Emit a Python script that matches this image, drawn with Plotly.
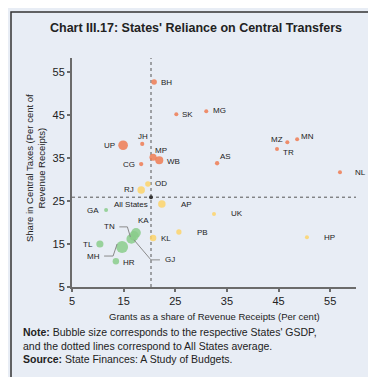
import plotly.graph_objects as go

# ---------------- data ----------------
states = ["BH", "SK", "MG", "MZ", "MN", "TR", "AS", "NL", "MP", "WB",
          "JH", "UP", "CG", "OD", "RJ", "AP", "UK", "PB", "KL", "HP",
          "GA", "TL", "MH", "HR", "TN", "KA", "GJ"]
grants = [20.9, 25.2, 31.0, 46.7, 48.6, 44.7, 33.1, 56.9, 20.7, 21.9,
          18.6, 14.9, 18.4, 19.7, 18.4, 22.4, 32.5, 25.7, 20.7, 50.5,
          11.6, 10.4, 14.7, 13.5, 16.5, 17.4, 17.0]
tax_share = [52.7, 45.2, 45.9, 38.7, 39.4, 37.1, 33.8, 31.7, 35.2, 34.5,
             38.3, 38.0, 33.6, 29.0, 27.6, 24.3, 22.0, 17.8, 16.4, 16.6,
             22.9, 15.0, 14.3, 11.0, 16.2, 17.6, 16.9]
gsdp = [6.7, 0.4, 0.4, 0.3, 0.4, 0.7, 4.0, 0.35, 11.0, 14.0,
        3.8, 20.0, 4.0, 6.5, 12.0, 12.0, 2.7, 6.0, 9.0, 1.9,
        0.9, 11.0, 31.0, 8.8, 21.0, 20.0, 20.0]
group = ["high"] * 13 + ["mid"] * 7 + ["low"] * 7
all_states = (20.3, 25.9)

x_ticks = [5, 15, 25, 35, 45, 55]
y_ticks = [5, 15, 25, 35, 45, 55]
x_range = [5, 60]
y_range = [5, 58.3]

# ---------------- style ----------------
BG = "#e8edf5"
FONT = "Liberation Sans, Arial, sans-serif"
colors = {"high": "#ef7b52", "mid": "#fdd36a", "low": "#89cc8b"}
W, H = 376, 377
ML, MR, MT, MB = 64, 28, 50, 98
PW, PH = W - ML - MR, H - MT - MB

# label placement: (xanchor, dx px, dy px up)
label_pos = {
    "BH": ("left", 5, 0), "SK": ("left", 4, 0), "MG": ("left", 5, 1),
    "MZ": ("right", -2, 3), "MN": ("left", 2, 3), "TR": ("left", 4, -3),
    "AS": ("left", 1, 7), "NL": ("left", 13, 0), "MP": ("left", 0, 7),
    "WB": ("left", 6, -1), "JH": ("center", 1, 7), "UP": ("right", -6, 0),
    "CG": ("right", -4, 0), "OD": ("left", 5, 0), "RJ": ("right", -5, 0),
    "AP": ("left", 17, 0), "UK": ("left", 15, 0), "PB": ("left", 16, 0),
    "KL": ("left", 6, 0), "HP": ("left", 15, 0), "GA": ("right", -5, 0),
    "TL": ("right", -5, 0), "HR": ("left", 5, -1), "KA": ("center", 7, 12),
}
# leader lines: points in px offsets from the bubble (dx right, dy up), label at end
leaders = {
    "TN": ([(-1, 2), (-4, 12), (-12, 12)], "right"),
    "MH": ([(-5, 3), (-9, -9), (-18, -9)], "right"),
    "GJ": ([(0, -4), (17, -24), (26, -24)], "left"),
}


def px2x(v, dpx):
    return v + dpx * (x_range[1] - x_range[0]) / PW


def px2y(v, dpx):
    return v + dpx * (y_range[1] - y_range[0]) / PH


fig = go.Figure()

sizeref = 2.0 * max(gsdp) / (12.0 ** 2)
for g in ["high", "mid", "low"]:
    idx = [i for i, gg in enumerate(group) if gg == g]
    fig.add_trace(go.Scatter(
        x=[grants[i] for i in idx], y=[tax_share[i] for i in idx],
        mode="markers",
        marker=dict(size=[gsdp[i] for i in idx], sizemode="area", sizeref=sizeref,
                    sizemin=2, color=colors[g], opacity=0.85,
                    line=dict(width=0)),
        hovertext=[states[i] for i in idx], showlegend=False))

# average lines
fig.add_shape(type="line", x0=all_states[0], x1=all_states[0], y0=y_range[0], y1=y_range[1],
              line=dict(color="#555555", width=1, dash="dot"), layer="below")
fig.add_shape(type="line", x0=x_range[0], x1=x_range[1], y0=all_states[1], y1=all_states[1],
              line=dict(color="#555555", width=1, dash="dot"), layer="below")
fig.add_trace(go.Scatter(x=[all_states[0]], y=[all_states[1]], mode="markers",
                         marker=dict(size=4, color="#333333"), showlegend=False))
fig.add_annotation(x=all_states[0], y=all_states[1], text="All States", showarrow=False,
                   xanchor="right", yanchor="middle", xshift=-1, yshift=-7,
                   font=dict(size=8, color="#222222", family=FONT))

# point labels
for i, s in enumerate(states):
    if s in label_pos:
        anc, dx, dy = label_pos[s]
        fig.add_annotation(x=grants[i], y=tax_share[i], text=s, showarrow=False,
                           xanchor=anc, yanchor="middle", xshift=dx, yshift=dy,
                           font=dict(size=8, color="#222222", family=FONT))
    elif s in leaders:
        pts, anc = leaders[s]
        xs = [px2x(grants[i], p[0]) for p in pts]
        ys = [px2y(tax_share[i], p[1]) for p in pts]
        path = "M {} {} L {} {} L {} {}".format(xs[0], ys[0], xs[1], ys[1], xs[2], ys[2])
        fig.add_shape(type="path", path=path, line=dict(color="#8a8a8a", width=1))
        fig.add_annotation(x=xs[2], y=ys[2], text=s, showarrow=False,
                           xanchor=anc, yanchor="middle",
                           xshift=(-2 if anc == "right" else 3),
                           font=dict(size=8, color="#222222", family=FONT))

# outer border
fig.add_shape(type="rect", xref="paper", yref="paper",
              x0=(3 - ML) / PW, x1=(370 - ML) / PW,
              y0=(H - MB - 372) / PH, y1=(H - MB - 4) / PH,
              line=dict(color="#333333", width=1.5), fillcolor="rgba(0,0,0,0)")

# title
fig.add_annotation(xref="paper", yref="paper", x=(188 - ML) / PW, y=(H - MB - 20) / PH,
                   text="<b>Chart III.17: States' Reliance on Central Transfers</b>",
                   showarrow=False, xanchor="center", yanchor="middle",
                   font=dict(size=12.5, color="#222222", family=FONT))
# axis titles
fig.add_annotation(xref="paper", yref="paper", x=(206 - ML) / PW, y=(H - MB - 308) / PH,
                   text="Grants as a share of Revenue Receipts (Per cent)",
                   showarrow=False, xanchor="center", yanchor="middle",
                   font=dict(size=9.5, color="#222222", family=FONT))
fig.add_annotation(xref="paper", yref="paper", x=(27 - ML) / PW, y=(H - MB - 160) / PH,
                   text="Share in Central Taxes (Per cent of<br>Revenue Receipts)",
                   showarrow=False, xanchor="center", yanchor="middle", textangle=-90,
                   font=dict(size=9.5, color="#222222", family=FONT))
# note
fig.add_annotation(xref="paper", yref="paper", x=(13 - ML) / PW, y=(H - MB - 316) / PH,
                   text="<b>Note:</b> Bubble size corresponds to the respective States' GSDP,<br>"
                        "and the dotted lines correspond to All States average.<br>"
                        "<b>Source:</b> State Finances: A Study of Budgets.",
                   showarrow=False, xanchor="left", yanchor="top", align="left",
                   font=dict(size=10.5, color="#222222", family=FONT))

axis_common = dict(showgrid=False, zeroline=False, showline=True, linecolor="#6b6b6b",
                   linewidth=2, ticks="outside", ticklen=3, tickwidth=1.5, tickcolor="#6b6b6b",
                   tickfont=dict(size=11, color="#222222", family=FONT))
fig.update_xaxes(range=x_range, tickvals=x_ticks, **axis_common)
fig.update_yaxes(range=y_range, tickvals=y_ticks, **axis_common)

fig.update_layout(width=W, height=H, margin=dict(l=ML, r=MR, t=MT, b=MB),
                  paper_bgcolor=BG, plot_bgcolor=BG, font=dict(family=FONT),
                  showlegend=False)

fig.write_html("out.html")
